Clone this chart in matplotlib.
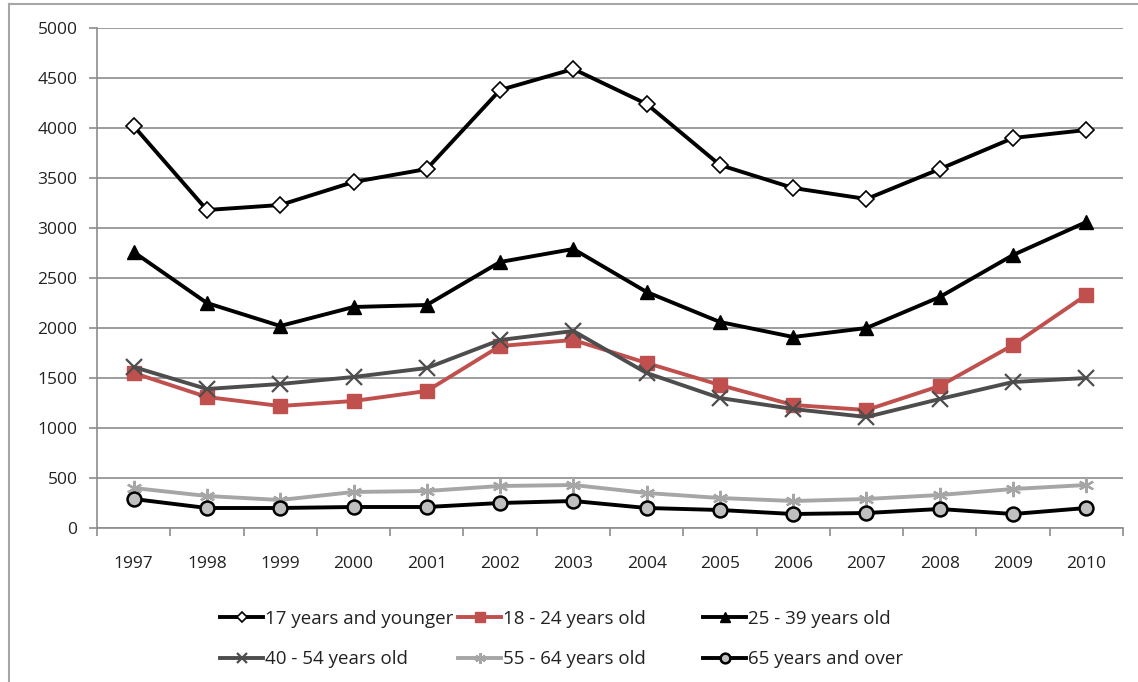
import matplotlib
matplotlib.use("Agg")
import matplotlib.pyplot as plt
from matplotlib.lines import Line2D
import numpy as np

plt.rcParams['font.family'] = ['Open Sans', 'DejaVu Sans']

years = ["1997", "1998", "1999", "2000", "2001", "2002", "2003",
         "2004", "2005", "2006", "2007", "2008", "2009", "2010"]

age_17_under = [4020, 3180, 3230, 3460, 3590, 4380, 4590,
                4240, 3630, 3400, 3290, 3590, 3900, 3980]
age_18_24 = [1550, 1310, 1220, 1270, 1370, 1820, 1880,
             1650, 1430, 1230, 1180, 1420, 1830, 2330]
age_25_39 = [2760, 2250, 2020, 2210, 2230, 2660, 2790,
             2360, 2060, 1910, 2000, 2310, 2730, 3060]
age_40_54 = [1610, 1390, 1440, 1510, 1600, 1880, 1970,
             1550, 1300, 1190, 1110, 1290, 1460, 1500]
age_55_64 = [400, 320, 280, 360, 370, 420, 430,
             350, 300, 270, 290, 330, 390, 430]
age_65_over = [290, 200, 200, 210, 210, 250, 270,
               200, 180, 140, 150, 190, 140, 200]

labels = ["17 years and younger", "18 - 24 years old", "25 - 39 years old",
          "40 - 54 years old", "55 - 64 years old", "65 years and over"]

fig = plt.figure(figsize=(11.38, 6.82), dpi=100)
ax = fig.add_axes([97 / 1138, 1 - 528 / 682, (1123 - 97) / 1138, 500 / 682])

x = np.arange(len(years))
lw = 2.8

styles = [
    dict(data=age_17_under, color="black", marker="D", ms=8, mfc="white", mec="black", mew=1.2),
    dict(data=age_18_24, color="#c0504d", marker="s", ms=10, mfc="#c0504d", mec="#c0504d", mew=1),
    dict(data=age_25_39, color="black", marker="^", ms=10, mfc="black", mec="black", mew=1),
    dict(data=age_40_54, color="#4d4d4d", marker="x", ms=11, mfc="#4d4d4d", mec="#4d4d4d", mew=1.6),
    dict(data=age_55_64, color="#a6a6a6", marker=(6, 2, 0), ms=11, mfc="#a6a6a6", mec="#a6a6a6", mew=1.6),
    dict(data=age_65_over, color="black", marker="o", ms=10, mfc="#bfbfbf", mec="black", mew=1.8),
]

handles = []
for st, lab in zip(styles, labels):
    h, = ax.plot(x, st["data"], color=st["color"], lw=lw, marker=st["marker"],
                 ms=st["ms"], mfc=st["mfc"], mec=st["mec"], mew=st["mew"],
                 label=lab, zorder=3)
    handles.append(h)

ax.set_xlim(-0.5, len(years) - 0.5)
ax.set_ylim(0, 5000)
ax.set_yticks(np.arange(0, 5001, 500))
ax.set_xticks(x)
ax.set_xticklabels(years)
ax.set_xticks(np.arange(-0.5, len(years), 1), minor=True)

ax.grid(axis="y", color="#8c8c8c", lw=1.2, zorder=0)
for s in ["top", "right"]:
    ax.spines[s].set_visible(False)
for s in ["left", "bottom"]:
    ax.spines[s].set_color("#8c8c8c")
    ax.spines[s].set_linewidth(1.2)

ax.tick_params(axis="y", length=6, width=1.2, color="#8c8c8c", labelsize=12.5,
               labelcolor="#222222", pad=8)
ax.tick_params(axis="x", which="major", length=0, labelsize=12.5,
               labelcolor="#222222", pad=20)
ax.tick_params(axis="x", which="minor", length=6, width=1.2, color="#8c8c8c")

# legend: three columns of two entries
col_x = [221, 459, 704]
for i, cx in enumerate(col_x):
    leg = fig.legend([handles[i], handles[i + 3]], [labels[i], labels[i + 3]],
                     loc="upper left", bbox_to_anchor=(cx / 1138 - 0.004, 1 - 606 / 682),
                     frameon=False, fontsize=13.5, handlelength=2.3, handletextpad=0.1,
                     labelspacing=1.2, borderaxespad=0, borderpad=0.2,
                     markerscale=0.7)
    for t in leg.get_texts():
        t.set_color("#222222")

# outer chart border (left and top)
fig.add_artist(Line2D([9 / 1138, 9 / 1138], [0, 1 - 4 / 682], color="#a6a6a6",
                      lw=1.5, transform=fig.transFigure))
fig.add_artist(Line2D([9 / 1138, 1], [1 - 4 / 682, 1 - 4 / 682], color="#a6a6a6",
                      lw=1.5, transform=fig.transFigure))

fig.savefig("out.png", dpi=100, facecolor="white")
